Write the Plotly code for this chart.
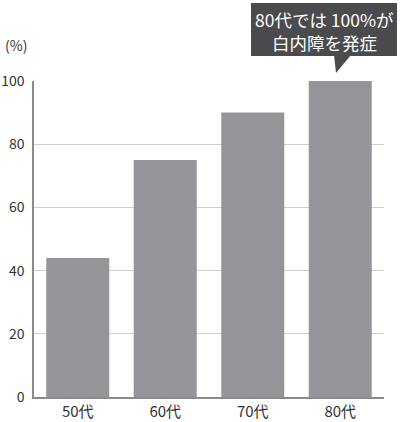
import plotly.graph_objects as go

categories = ["50代", "60代", "70代", "80代"]
values = [44, 75, 90, 100]
y_ticks = [0, 20, 40, 60, 80, 100]
unit_label = "(%)"
callout_lines = ["80代では 100%が", "白内障を発症"]

W, H = 400, 422
L, R, T, B = 34, 16, 81, 25
pw, ph = W - L - R, H - T - B

def px(x):
    return (x - L) / pw

def py(y):
    return (H - B - y) / ph

fig = go.Figure(go.Bar(
    x=categories, y=values,
    marker=dict(color="#939598", line=dict(width=0)),
    width=0.72,
    hoverinfo="skip",
))

font_main = "Noto Sans CJK JP, Noto Sans, sans-serif"

fig.update_layout(
    width=W, height=H,
    margin=dict(l=L, r=R, t=T, b=B, pad=0, autoexpand=False),
    paper_bgcolor="white", plot_bgcolor="white",
    showlegend=False,
    font=dict(family=font_main, size=14, color="#333333"),
    xaxis=dict(
        showgrid=False, showline=True, linecolor="#8a8a8a", linewidth=1.5,
        ticks="", tickfont=dict(size=15, color="#333333"),
        range=[-0.5, 3.5], automargin=False,
    ),
    yaxis=dict(
        range=[0, 100], tickvals=y_ticks, showgrid=True, gridcolor="#d0d0d0", gridwidth=1,
        showline=True, linecolor="#8a8a8a", linewidth=1.5,
        zeroline=False, ticks="", ticklabelstandoff=5,
        tickfont=dict(size=14, color="#333333"), automargin=False,
    ),
    bargap=0.28,
)

# unit label
fig.add_annotation(
    x=px(3), y=py(45), xref="paper", yref="paper",
    text=unit_label, showarrow=False, xanchor="left", yanchor="middle",
    font=dict(size=14, color="#333333", family=font_main),
)

# callout box
fig.add_shape(
    type="rect", xref="paper", yref="paper",
    x0=px(251), x1=px(397), y0=py(56), y1=py(3),
    fillcolor="#4b4b4d", line=dict(width=0), layer="above",
)
fig.add_shape(
    type="path", xref="paper", yref="paper",
    path=f"M {px(334)} {py(55)} L {px(351)} {py(55)} L {px(336)} {py(73)} Z",
    fillcolor="#4b4b4d", line=dict(width=0), layer="above",
)
for line, yc in zip(callout_lines, [19, 42]):
    fig.add_annotation(
        x=px(324.5), y=py(yc), xref="paper", yref="paper",
        text=line, showarrow=False, xanchor="center", yanchor="middle",
        font=dict(size=17.5, color="white", family=font_main),
    )

fig.write_html(
    "out.html",
    config={"displayModeBar": False},
    post_script="document.body.style.margin='0';document.body.style.overflow='hidden';",
)
